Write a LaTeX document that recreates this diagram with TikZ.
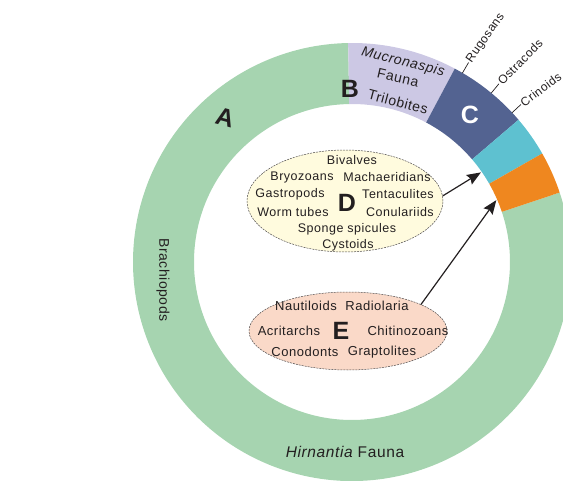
\documentclass[tikz,border=0pt]{standalone}
\usepackage{fontspec}
\setmainfont{Liberation Sans}[LetterSpace=4]
\usepackage{tikz}
\usetikzlibrary{shapes, arrows.meta}

\definecolor{ringGreen}{RGB}{166,212,176}
\definecolor{ringLilac}{RGB}{204,200,228}
\definecolor{ringNavy}{RGB}{83,99,145}
\definecolor{ringCyan}{RGB}{94,193,208}
\definecolor{ringOrange}{RGB}{239,135,31}
\definecolor{ellYellow}{RGB}{255,251,222}
\definecolor{ellPeach}{RGB}{250,217,200}
\definecolor{inkGray}{RGB}{35,31,32}

\begin{document}
\begin{tikzpicture}[
    x=1pt, y=1pt,
    faunaEll/.style={ellipse, draw=inkGray!80, line width=0.5pt, dash pattern=on 2pt off 1pt, inner sep=0pt},
    taxonD/.style={font=\fontsize{12.5}{14}\selectfont, text=inkGray},
    taxonE/.style={font=\fontsize{13}{15}\selectfont, text=inkGray},
    segText/.style={font=\fontsize{14}{16}\selectfont, text=inkGray},
    bigLetter/.style={font=\fontsize{25}{28}\bfseries, text=inkGray},
    ringLabel/.style={font=\fontsize{12}{14}\selectfont, text=inkGray, anchor=west, inner sep=1pt},
    tickLine/.style={draw=inkGray, line width=0.7pt},
    tipArrow/.style={-{Stealth[length=14pt, width=11pt, inset=2pt]}, line width=1.2pt, draw=inkGray},
    every node/.style={
        text centered,
        }
        ]
    \useasboundingbox (-352,-218) rectangle (211,262);
    \clip (-352,-218) rectangle (211,262);

    % ring segments
    \fill[ringGreen] (91:158) arc[start angle=91, end angle=378.5, radius=158] -- (378.5:219) arc[start angle=378.5, end angle=91, radius=219] -- cycle;
    \fill[ringLilac] (62:158) arc[start angle=62, end angle=91, radius=158] -- (91:219) arc[start angle=91, end angle=62, radius=219] -- cycle;
    \fill[ringNavy] (40.5:158) arc[start angle=40.5, end angle=62, radius=158] -- (62:219) arc[start angle=62, end angle=40.5, radius=219] -- cycle;
    \fill[ringCyan] (29.7:158) arc[start angle=29.7, end angle=40.5, radius=158] -- (40.5:219) arc[start angle=40.5, end angle=29.7, radius=219] -- cycle;
    \fill[ringOrange] (18.5:158) arc[start angle=18.5, end angle=29.7, radius=158] -- (29.7:219) arc[start angle=29.7, end angle=18.5, radius=219] -- cycle;

    % labels on the ring
    \node[bigLetter, rotate=-15] (aLetter) at (-127,144) {A};
    \node[bigLetter] (bLetter) at (-2,173) {B};
    \node[bigLetter, text=white] (cLetter) at (118,147) {C};
    \node[segText, rotate=-14] (mucro) at (51,200) {\itshape Mucronaspis};
    \node[segText, rotate=-13] (faunaB) at (46,184) {Fauna};
    \node[segText, rotate=-15] (trilo) at (46,160) {Trilobites};
    \node[segText, rotate=-90] (brachio) at (-189,-18) {Brachiopods};
    \node[segText, font=\fontsize{15.5}{17}\selectfont] (hirn) at (-7,-190) {{\itshape Hirnantia} Fauna};

    \node[ringLabel, rotate=55] (rugosans) at (59.7:231) {Rugosans};
    \node[ringLabel, rotate=46] (ostracods) at (50.5:231) {Ostracods};
    \node[ringLabel, rotate=37] (crinoids) at (43:231) {Crinoids};
    \draw[tickLine] (59.7:219) -- (rugosans.west);
    \draw[tickLine] (50.5:219) -- (ostracods.west);
    \draw[tickLine] (43:219) -- (crinoids.west);

    % D
    \node[faunaEll, fill=ellYellow, minimum width=196pt, minimum height=102pt] (dFauna) at (-7,61) {};
    \node[taxonD, xshift=7pt, yshift=41pt] (bivalves) at (dFauna.center) {Bivalves};
    \node[taxonD, xshift=-43pt, yshift=24pt] (bryozoans) at (dFauna.center) {Bryozoans};
    \node[taxonD, xshift=42pt, yshift=24pt] (machaer) at (dFauna.center) {Machaeridians};
    \node[taxonD, xshift=-55pt, yshift=7pt] (gastro) at (dFauna.center) {Gastropods};
    \node[taxonD, xshift=53pt, yshift=7pt] (tentac) at (dFauna.center) {Tentaculites};
    \node[taxonD, xshift=-52pt, yshift=-11pt] (worm) at (dFauna.center) {Worm tubes};
    \node[taxonD, xshift=55pt, yshift=-11pt] (conul) at (dFauna.center) {Conulariids};
    \node[taxonD, xshift=2pt, yshift=-28pt] (sponge) at (dFauna.center) {Sponge spicules};
    \node[taxonD, xshift=3pt, yshift=-44pt] (cystoids) at (dFauna.center) {Cystoids};
    \node[bigLetter, xshift=2pt, yshift=-2pt] (dLetter) at (dFauna.center) {D};

    % E
    \node[faunaEll, fill=ellPeach, minimum width=198pt, minimum height=78pt] (eFauna) at (-4,-69) {};
    \node[taxonE, xshift=-42pt, yshift=25pt] (nautil) at (eFauna.center) {Nautiloids};
    \node[taxonE, xshift=29pt, yshift=25pt] (radiol) at (eFauna.center) {Radiolaria};
    \node[taxonE, xshift=-59pt] (acrit) at (eFauna.center) {Acritarchs};
    \node[taxonE, xshift=60pt] (chitino) at (eFauna.center) {Chitinozoans};
    \node[taxonE, xshift=-43pt, yshift=-21pt] (conod) at (eFauna.center) {Conodonts};
    \node[taxonE, xshift=34pt, yshift=-21pt] (grapto) at (eFauna.center) {Graptolites};
    \node[bigLetter, xshift=-7pt] (eLetter) at (eFauna.center) {E};

    \coordinate (cyanTip) at (34.8:157);
    \coordinate (orangeTip) at (23.2:157);
    \draw[tipArrow] (dFauna.3) -- (cyanTip);
    \draw[tipArrow] (eFauna.20) -- (orangeTip);
\end{tikzpicture}
\end{document}
